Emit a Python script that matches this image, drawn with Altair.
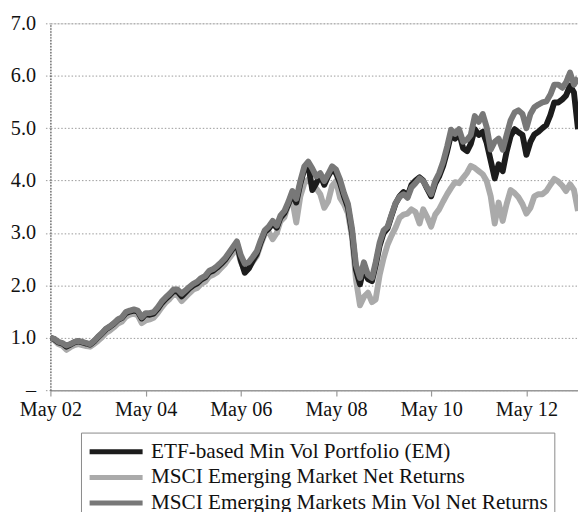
import altair as alt
import pandas as pd

# Monthly values, May 2002 .. Jun 2013 (134 months)
dates = pd.date_range("2002-05-01", periods=134, freq="MS")

etf = [1.00, 0.97, 0.91, 0.89, 0.83, 0.87, 0.91, 0.93, 0.91, 0.89, 0.87, 0.93,
       1.01, 1.08, 1.16, 1.21, 1.27, 1.34, 1.38, 1.47, 1.50, 1.52, 1.50, 1.37,
       1.45, 1.44, 1.46, 1.55, 1.66, 1.74, 1.81, 1.89, 1.88, 1.79, 1.86, 1.94,
       2.00, 2.04, 2.11, 2.15, 2.25, 2.28, 2.34, 2.41, 2.49, 2.60, 2.70, 2.80,
       2.48, 2.24, 2.32, 2.47, 2.60, 2.82, 3.02, 3.08, 3.18, 3.10, 3.29, 3.38,
       3.55, 3.76, 3.58, 3.94, 4.22, 4.30, 3.82, 3.95, 4.10, 3.92, 4.08, 4.22,
       4.14, 3.95, 3.70, 3.48, 3.00, 2.30, 2.02, 2.34, 2.12, 2.08, 2.38, 2.76,
       3.00, 3.09, 3.33, 3.56, 3.70, 3.78, 3.70, 3.92, 4.00, 4.06, 4.00, 3.84,
       3.70, 3.94, 4.08, 4.28, 4.56, 4.88, 4.80, 4.92, 4.62, 4.56, 4.70, 4.98,
       4.87, 4.93, 4.72, 4.38, 4.04, 4.31, 4.18, 4.55, 4.85, 4.98, 4.92, 4.87,
       4.49, 4.74, 4.88, 4.93, 5.00, 5.06, 5.25, 5.49, 5.49, 5.55, 5.62, 5.81,
       5.68, 4.98]

em = [1.00, 0.95, 0.88, 0.85, 0.77, 0.82, 0.86, 0.88, 0.86, 0.84, 0.83, 0.88,
      0.94, 1.01, 1.09, 1.14, 1.20, 1.27, 1.31, 1.40, 1.44, 1.46, 1.43, 1.28,
      1.33, 1.35, 1.38, 1.47, 1.58, 1.67, 1.74, 1.83, 1.81, 1.70, 1.77, 1.85,
      1.92, 1.95, 2.03, 2.07, 2.17, 2.20, 2.25, 2.33, 2.41, 2.52, 2.61, 2.73,
      2.45, 2.28, 2.34, 2.45, 2.56, 2.78, 2.98, 3.02, 2.88, 3.00, 3.22, 3.30,
      3.55, 3.62, 3.20, 3.70, 3.95, 4.02, 3.93, 3.85, 3.74, 3.48, 3.60, 3.90,
      3.99, 3.67, 3.55, 3.37, 2.92, 2.11, 1.62, 1.78, 1.86, 1.68, 1.73, 2.20,
      2.52, 2.78, 2.95, 3.10, 3.29, 3.35, 3.37, 3.45, 3.40, 3.18, 3.45, 3.30,
      3.12, 3.35, 3.45, 3.60, 3.74, 3.86, 3.97, 3.95, 4.05, 4.15, 4.28, 4.24,
      4.18, 4.12, 3.99, 3.70, 3.18, 3.58, 3.23, 3.55, 3.82, 3.76, 3.68, 3.55,
      3.37, 3.48, 3.70, 3.74, 3.74, 3.80, 3.92, 4.03, 3.98, 3.90, 3.80, 3.93,
      3.82, 3.42]

mv = [1.00, 0.98, 0.92, 0.90, 0.85, 0.88, 0.92, 0.94, 0.92, 0.90, 0.88, 0.94,
      1.02, 1.09, 1.17, 1.22, 1.28, 1.35, 1.39, 1.49, 1.52, 1.54, 1.52, 1.39,
      1.47, 1.47, 1.49, 1.58, 1.69, 1.77, 1.84, 1.92, 1.92, 1.84, 1.90, 1.97,
      2.03, 2.07, 2.14, 2.18, 2.28, 2.31, 2.37, 2.44, 2.52, 2.63, 2.73, 2.84,
      2.58, 2.41, 2.44, 2.54, 2.65, 2.86, 3.05, 3.12, 3.23, 3.14, 3.33, 3.42,
      3.59, 3.80, 3.65, 3.99, 4.27, 4.36, 4.23, 4.08, 4.14, 3.99, 4.12, 4.27,
      4.21, 4.02, 3.76, 3.55, 3.08, 2.39, 2.14, 2.44, 2.20, 2.14, 2.44, 2.82,
      3.05, 3.12, 3.35, 3.57, 3.69, 3.74, 3.67, 3.87, 3.95, 4.04, 3.99, 3.86,
      3.74, 3.99, 4.14, 4.36, 4.65, 4.97, 4.89, 4.98, 4.74, 4.78, 4.87, 5.23,
      5.12, 5.27, 5.02, 4.59, 4.74, 4.80, 4.59, 4.87, 5.15, 5.30, 5.34, 5.27,
      5.00, 5.27, 5.40, 5.45, 5.49, 5.51, 5.64, 5.83, 5.83, 5.77, 5.87, 6.06,
      5.83, 5.96]

series_names = ["ETF-based Min Vol Portfolio (EM)",
                "MSCI Emerging Market Net Returns",
                "MSCI Emerging Markets Min Vol Net Returns"]
series_colors = ["#1c1c1c", "#aaaaaa", "#787878"]
y_ticks = [0, 1, 2, 3, 4, 5, 6, 7]
x_tick_years = [2002, 2004, 2006, 2008, 2010, 2012]

frames = []
for name, vals in zip(series_names, [etf, em, mv]):
    frames.append(pd.DataFrame({"date": dates, "value": vals, "series": name}))
df = pd.concat(frames, ignore_index=True)

FONT = "Liberation Serif"

x_enc = alt.X(
    "date:T",
    scale=alt.Scale(domain=[alt.DateTime(year=2002, month=5, date=1),
                            alt.DateTime(year=2013, month=6, date=1)]),
    axis=alt.Axis(
        title=None, grid=False, format="%b %y",
        values=[alt.DateTime(year=y, month=5, date=1) for y in x_tick_years],
        domainColor="#999999", domainWidth=1.5,
        tickColor="#999999", tickSize=6, tickWidth=1.2,
        labelFont=FONT, labelFontSize=20.5, labelColor="#111111",
        labelPadding=4, labelFlush=False,
    ),
)
y_enc = alt.Y(
    "value:Q",
    scale=alt.Scale(domain=[0, 7], nice=False),
    axis=alt.Axis(
        title=None, values=y_ticks,
        labelExpr="datum.value == 0 ? '\u2013' : format(datum.value, '.1f')",
        grid=True, gridColor="#999999", gridDash=[1.5, 2], gridWidth=1,
        domainColor="#555555", domainDash=[1.5, 1.5], domainWidth=1.2,
        tickColor="#999999", tickDash=[1.5, 2], tickSize=5,
        labelFont=FONT, labelFontSize=20.5, labelColor="#111111",
        labelPadding=10,
    ),
)
color_enc = alt.Color(
    "series:N",
    scale=alt.Scale(domain=series_names, range=series_colors),
    legend=alt.Legend(
        title=None, orient="none", legendX=31, legendY=415,
        symbolType="M-1,0H4", symbolSize=462, symbolStrokeWidth=5,
        labelFont=FONT, labelFontSize=21.5, labelColor="#111111",
        labelOffset=38, labelLimit=600, padding=6, rowPadding=2,
        strokeColor="#888888", fillColor="white",
    ),
)

base = alt.Chart(df).encode(x=x_enc, y=y_enc, color=color_enc)

layers = []
for name in [series_names[1], series_names[0], series_names[2]]:
    layers.append(
        base.transform_filter(alt.datum.series == name)
        .mark_line(strokeWidth=6, strokeJoin="round", clip=True)
    )

chart = alt.layer(*layers).properties(
    width=535, height=372,
    autosize=alt.AutoSizeParams(type="none"),
    padding={"left": 43, "top": 12, "right": 0, "bottom": 120},
).configure_view(stroke=None).configure(background="white")

chart.save("out.html", embed_options={"renderer": "svg", "actions": False})
